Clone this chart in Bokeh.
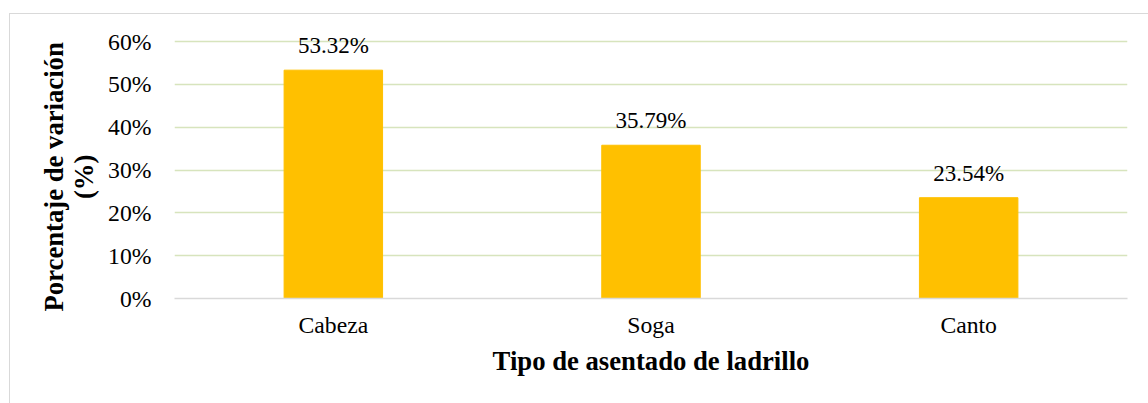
from bokeh.plotting import figure
from bokeh.models import ColumnDataSource, LabelSet, NumeralTickFormatter, FixedTicker
from bokeh.core.properties import value
from bokeh.embed import file_html
from bokeh.resources import INLINE

categories = ["Cabeza", "Soga", "Canto"]
values = [0.5332, 0.3579, 0.2354]
labels = ["53.32%", "35.79%", "23.54%"]
y_ticks = [0, 0.1, 0.2, 0.3, 0.4, 0.5, 0.6]

FONT = "Liberation Serif"

src = ColumnDataSource(dict(cat=categories, val=values, lab=labels))

# page offset of the outer border
OX, OY = 9, 13

p = figure(x_range=categories, y_range=(0, 0.6305), width=1148 - OX, height=403 - OY,
           output_backend="svg", toolbar_location=None,
           min_border_left=176 - OX - 3, min_border_right=22, min_border_top=29 - OY - 2,
           min_border_bottom=106)
p.margin = (OY, 0, 0, OX)
p.styles = {"border-left": "1.5px solid #d9d9d9", "border-top": "1.5px solid #d9d9d9",
            "box-sizing": "border-box"}
p.outline_line_color = None
p.background_fill_color = "white"
p.border_fill_color = "white"

p.vbar(x="cat", top="val", width=0.31, source=src, color="#FFC000")

ls = LabelSet(x="cat", y="val", text="lab", source=src, text_align="center",
              text_baseline="alphabetic", y_offset=17, text_font=value(FONT),
              text_font_size="23px", text_color="#000000")
p.add_layout(ls)

p.yaxis.ticker = FixedTicker(ticks=y_ticks)
p.yaxis.formatter = NumeralTickFormatter(format="0%")
p.ygrid.grid_line_color = "#d7e4bd"
p.ygrid.grid_line_width = 1.5
p.xgrid.grid_line_color = None

for ax in (p.xaxis, p.yaxis):
    ax.major_tick_line_color = None
    ax.minor_tick_line_color = None
    ax.major_label_text_font = FONT
    ax.major_label_text_font_size = "23.7px"
    ax.major_label_text_color = "#000000"
    ax.axis_label_text_font = FONT
    ax.axis_label_text_font_size = "26.7px"
    ax.axis_label_text_font_style = "bold"
    ax.axis_label_text_color = "#000000"

p.yaxis.axis_line_color = None
p.xaxis.axis_line_color = "#d9d9d9"
p.xaxis.axis_line_width = 1.5
p.yaxis.major_label_standoff = 17
p.xaxis.major_label_standoff = 7
pad = "\u00a0" * 4
p.yaxis.axis_label = "Porcentaje de variación" + pad + "\n(%)" + pad
p.yaxis.axis_label_text_line_height = 1.0
p.xaxis.axis_label = "Tipo de asentado de ladrillo"
p.yaxis.axis_label_standoff = 6
p.xaxis.axis_label_standoff = 5

open("out.html", "w").write(file_html(p, INLINE))
